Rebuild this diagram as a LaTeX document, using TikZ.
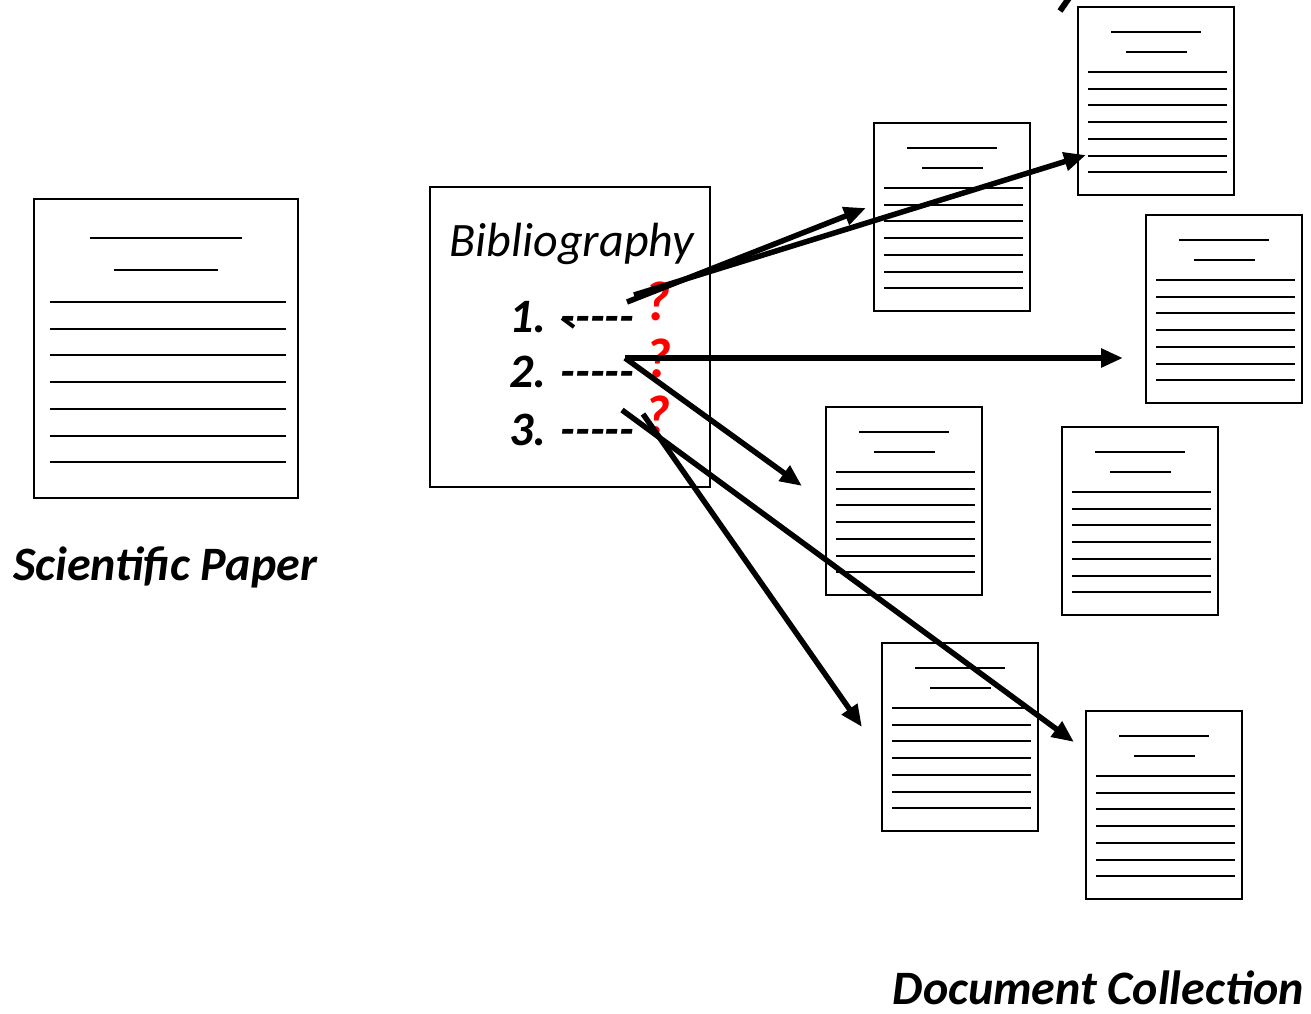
\documentclass[tikz,border=0pt]{standalone}
\usepackage{fontspec}
\setmainfont{Carlito}
\usetikzlibrary{arrows.meta}

\tikzset{
  pageframe/.style={draw=black, line width=2pt, fill=white},
  textline/.style={draw=black, line width=2pt},
  link/.style={draw=black, line width=5.5pt,
    -{Triangle[length=22pt,width=18pt]}},
  biglabel/.style={font=\fontsize{48}{54}\selectfont\bfseries\itshape, inner sep=0pt, text depth=0pt},
  itemtext/.style={font=\fontsize{48}{54}\selectfont\bfseries\itshape, inner sep=0pt},
  query/.style={font=\fontsize{56}{62}\selectfont\bfseries\itshape, text=red, inner sep=0pt},
  % one page of the collection, origin at its top-left corner
  page/.pic={
    \draw[pageframe] (0,0) rectangle (156,188);
    \draw[textline] (33,25) -- (123,25);
    \draw[textline] (48,45) -- (109,45);
    \foreach \k in {0,...,6}
      \draw[textline] (10,{65+\k*16.7}) -- (149,{65+\k*16.7});
  }
}

\begin{document}
\begin{tikzpicture}[x=1pt,y=-1pt]
\useasboundingbox (0,0) rectangle (1311,1013);

% the scientific paper
\draw[pageframe] (34,199) rectangle (298,498);
\draw[textline] (90,238) -- (242,238);
\draw[textline] (114,270) -- (218,270);
\foreach \k in {0,...,6}
  \draw[textline] (50,{302+\k*26.7}) -- (286,{302+\k*26.7});
\node[biglabel, anchor=base west] (paperlabel) at (13,580) {Scientific Paper};

% the bibliography
\draw[pageframe] (430,187) rectangle (710,487);
\node[inner sep=0pt, anchor=base, font=\fontsize{48}{54}\selectfont\itshape] (bibtitle) at (572,256) {Bibliography};
\node[itemtext, anchor=base west] (item1) at (509,332) {1. -{}-{}-{}-{}-};
\node[itemtext, anchor=base west] (item2) at (509,387) {2. -{}-{}-{}-{}-};
\node[itemtext, anchor=base west] (item3) at (509,445) {3. -{}-{}-{}-{}-};
\node[query, anchor=base west] (q1) at (644,320) {?};
\node[query, anchor=base west] (q2) at (645,377) {?};
\node[query, anchor=base west] (q3) at (644,434) {?};
\draw[black, line width=4pt] (562,318) -- (574,327);

% the document collection
\pic (docA) at (874,123) {page};
\pic (docB) at (1078,7) {page};
\pic (docC) at (1146,215) {page};
\pic (docD) at (826,407) {page};
\pic (docE) at (1062,427) {page};
\pic (docF) at (882,643) {page};
\pic (docG) at (1086,711) {page};
\node[biglabel, anchor=base east] (collabel) at (1304,1004) {Document Collection};

% stroke of a letter cut by the top edge
\draw[black, line width=6pt] (1060,11) -- (1069,-2);

% link ends
\coordinate (s1a) at (627,302);
\coordinate (s1b) at (634,295);
\coordinate (s2) at (625,358);
\coordinate (s3a) at (622,410);
\coordinate (s3b) at (643,414);
\coordinate (tA) at (866,208);
\coordinate (tB) at (1086,155);
\coordinate (tC) at (1123,358);
\coordinate (tD) at (802,486);
\coordinate (tF) at (862,727);
\coordinate (tG) at (1074,742);

\draw[link] (s1a) -- (tA);
\draw[link] (s1b) -- (tB);
\draw[link] (s2) -- (tC);
\draw[link] (s2) -- (tD);
\draw[link] (s3a) -- (tG);
\draw[link] (s3b) -- (tF);
\end{tikzpicture}
\end{document}
